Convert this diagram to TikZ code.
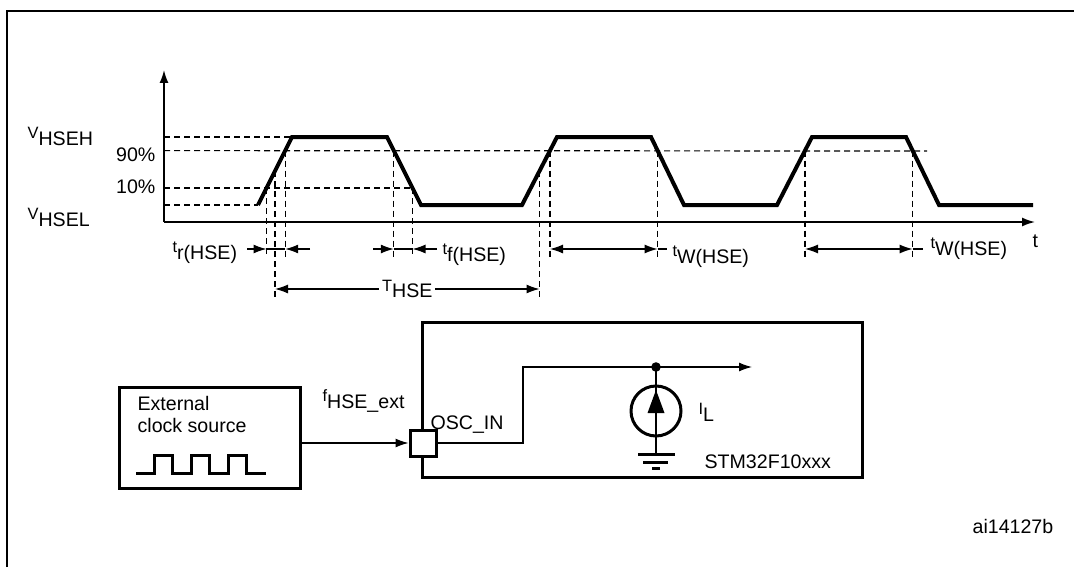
\documentclass[tikz,border=0pt]{standalone}
\usepackage{fontspec}
\setmainfont{Liberation Sans}
\usetikzlibrary{arrows.meta,calc}

\newcommand{\tsig}[2]{{\fontsize{8.2}{9}\selectfont\raisebox{3.2pt}{#1}}#2}

\begin{document}
\begin{tikzpicture}[x=0.5pt,y=-0.5pt,font=\fontsize{9.8}{11}\selectfont,
  >={Latex[length=6.5pt,width=4.5pt]},
  guide/.style={line width=0.6pt,dash pattern=on 3pt off 2pt},
  wave/.style={line width=2pt},
  box/.style={draw,line width=1.5pt,inner sep=0pt},
  lbl/.style={anchor=base west,inner sep=0pt},
  rlbl/.style={anchor=base east,inner sep=0pt}]

\useasboundingbox (0,0) rectangle (1074,567);
\draw[line width=1pt] (7,567) -- (7,11) -- (1074,11);

\begin{scope}[line width=0.6pt]

\coordinate (o) at (164,222);
\coordinate (dim) at (0,249);
\coordinate (per) at (0,289);

\coordinate (r1a) at (258,205);
\coordinate (r1b) at (292,137);
\coordinate (f1a) at (387,137);
\coordinate (f1b) at (421,205);
\coordinate (r2a) at (522,205);
\coordinate (r2b) at (557,137);
\coordinate (f2a) at (651,137);
\coordinate (f2b) at (684,205);
\coordinate (r3a) at (777,205);
\coordinate (r3b) at (812,137);
\coordinate (f3a) at (906,137);
\coordinate (f3b) at (939,205);

\coordinate (r1lo) at ($(r1a)!0.25!(r1b)$);
\coordinate (r1mid) at ($(r1a)!0.5!(r1b)$);
\coordinate (r1hi) at ($(r1a)!0.8!(r1b)$);
\coordinate (f1hi) at ($(f1a)!0.2!(f1b)$);
\coordinate (f1lo) at ($(f1a)!0.75!(f1b)$);
\coordinate (r2mid) at ($(r2a)!0.5!(r2b)$);
\coordinate (r2hi) at ($(r2a)!0.8!(r2b)$);
\coordinate (f2hi) at ($(f2a)!0.2!(f2b)$);
\coordinate (r3hi) at ($(r3a)!0.8!(r3b)$);
\coordinate (f3hi) at ($(f3a)!0.2!(f3b)$);

\draw[->,line width=0.8pt] (o) -- (164,70);
\draw[->,line width=0.8pt] (o) -- (1035,222);
\node[lbl] (taxis) at (1032,247) {t};

\draw[guide] (o |- r1b) -- (r1b);
\draw[guide] (o |- r1hi) -- (927,151);
\draw[guide] (o |- r1lo) -- (f1lo);
\draw[guide] (o |- r1a) -- (r1a);

\foreach \p in {r1lo,r1hi,f1hi,f1lo,r2hi,f2hi,r3hi,f3hi}
  \draw[guide] (\p) -- (\p |- 0,257);
\foreach \p in {r1mid,r2mid}
  \draw[guide] (\p) -- (\p |- 0,297);

\draw[wave] (r1a) -- (r1b) -- (f1a) -- (f1b) -- (r2a) -- (r2b) -- (f2a) -- (f2b)
  -- (r3a) -- (r3b) -- (f3a) -- (f3b) -- (1033,205);

\node[lbl] (vh) at (27,145) {\tsig{V}{HSEH}};
\node[rlbl] (p90) at (156,161) {90\%};
\node[rlbl] (p10) at (156,193) {10\%};
\node[lbl] (vl) at (27,226) {\tsig{V}{HSEL}};

\draw[->] (247,249) -- (r1lo |- dim);
\draw (r1lo |- dim) -- (r1hi |- dim);
\draw[->] (310,249) -- (r1hi |- dim);
\node[lbl] (tr) at (172,259) {\tsig{t}{r(HSE)}};

\draw[->] (373,249) -- (f1hi |- dim);
\draw (f1hi |- dim) -- (f1lo |- dim);
\draw[->] (437,249) -- (f1lo |- dim);
\node[lbl] (tf) at (442,261) {\tsig{t}{f(HSE)}};

\draw[<->] (r2hi |- dim) -- (f2hi |- dim);
\draw (f2hi |- dim) -- (667,249);
\node[lbl] (tw2) at (672,263) {\tsig{t}{W(HSE)}};

\draw[<->] (r3hi |- dim) -- (f3hi |- dim);
\draw (f3hi |- dim) -- (923,249);
\node[lbl] (tw3) at (930,255) {\tsig{t}{W(HSE)}};

\draw[<->] (r1mid |- per) -- node[fill=white,inner sep=1.5pt] (thse) {\tsig{T}{HSE}} (r2mid |- per);

\end{scope}

\begin{scope}[line width=0.6pt]

\node[box,minimum width=90.5pt,minimum height=50.5pt] (ext) at (209.5,437.5) {};
\node[lbl] (ext1) at (137,410) {External};
\node[lbl] (ext2) at (137,432) {clock source};
\draw[line width=1.5pt] (136,473) foreach \i in {0,1,2} {
  -- ++(18.4,0) -- ++(0,-18) -- ++(18.4,0) -- ++(0,18) } -- ++(20,0);

\node[box,minimum width=220pt,minimum height=77.5pt] (mcu) at (642,399.5) {};
\node[box,fill=white,minimum size=13pt] (port) at (423,443) {};
\draw[->] (ext.east |- port) -- (port.west);
\node[lbl] (fext) at (322,408) {\tsig{f}{HSE\_ext}};
\node[lbl] (osc) at (430,429) {OSC\_IN};

\coordinate (junc) at (656,367);
\coordinate (gnd) at (656,454);
\draw (port.east) -- (523,443) |- (junc);
\draw[->] (junc) -- (752,367);
\draw (junc) -- (gnd);
\fill (junc) circle (4.8);

\node[circle,draw,line width=1.5pt,minimum size=25pt,inner sep=0pt] (isrc) at (656,411) {};
\fill ($(isrc)+(0,-21)$) -- ($(isrc)+(-8.5,2)$) -- ($(isrc)+(8.5,2)$) -- cycle;
\draw[line width=1.5pt] ($(gnd)+(-18,0)$) -- ($(gnd)+(19,0)$);
\draw[line width=1.5pt] ($(gnd)+(-13,8)$) -- ($(gnd)+(12,8)$);
\draw[line width=1.5pt] ($(gnd)+(-4,14)$) -- ($(gnd)+(4,14)$);
\node[lbl] (il) at (698,421) {\tsig{I}{L}};
\node[lbl] (chip) at (704,468) {STM32F10xxx};

\node[lbl] (fig) at (972,533) {ai14127b};

\end{scope}

\end{tikzpicture}
\end{document}
